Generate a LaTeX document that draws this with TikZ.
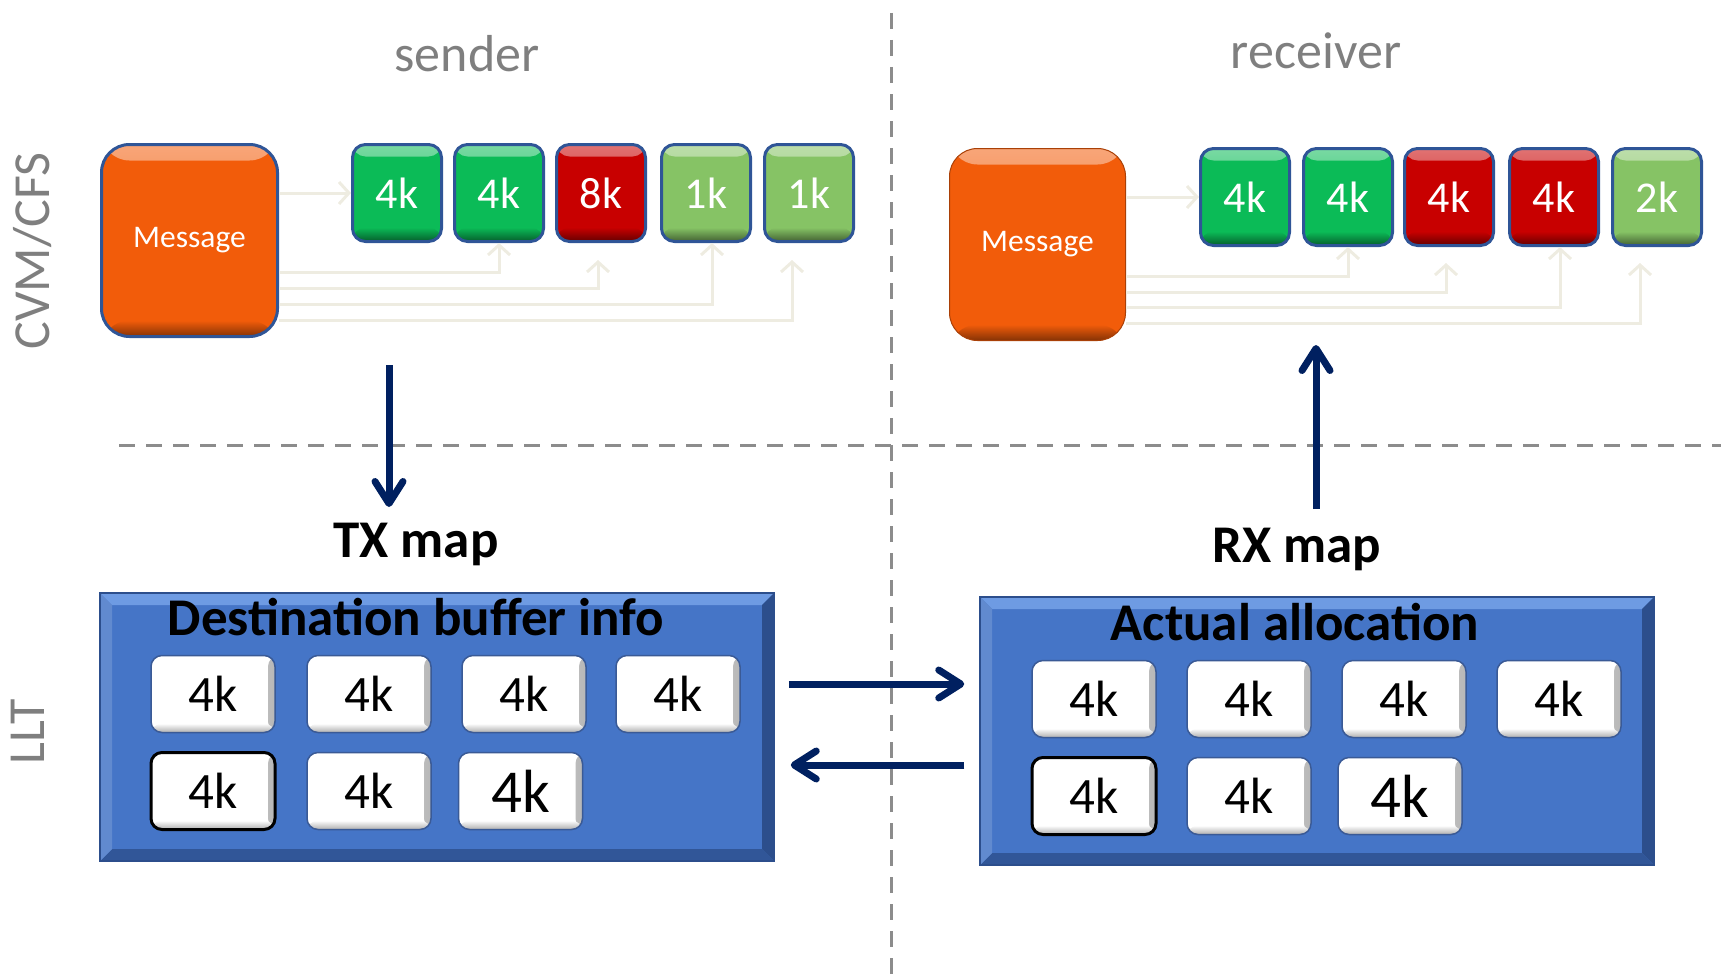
\documentclass[tikz,border=0pt]{standalone}
\usepackage{fontspec}
\setmainfont{Carlito}
\usetikzlibrary{arrows.meta,positioning,calc}

\definecolor{msgorange}{HTML}{F25C0A}
\definecolor{bufgreen}{HTML}{0BBB57}
\definecolor{bufred}{HTML}{C80000}
\definecolor{buflime}{HTML}{86C365}
\definecolor{edgeblue}{HTML}{2F5597}
\definecolor{panelblue}{HTML}{4575C7}
\definecolor{panellight}{HTML}{6E9BE3}
\definecolor{paneldark}{HTML}{2C4E8C}
\definecolor{navy}{HTML}{002060}
\definecolor{feedline}{HTML}{EEECE1}
\definecolor{labelgray}{HTML}{7F7F7F}
\definecolor{rulegray}{HTML}{8C8C8C}
\definecolor{slotline}{HTML}{3A5A96}

\tikzset{
  sidelabel/.style={text=labelgray, font=\fontsize{52}{60}\selectfont, inner sep=0pt},
  boldlabel/.style={font=\bfseries\fontsize{53}{60}\selectfont, inner sep=0pt},
  msgbox/.style={fill=msgorange, rounded corners=28pt, minimum width=176pt, minimum height=192pt,
    inner sep=0pt, text=white, font=\fontsize{31.5}{36}\selectfont,
    path picture={
      \shade[top color=msgorange!55!white, bottom color=msgorange]
        (path picture bounding box.north west) rectangle ([yshift=-16pt]path picture bounding box.north east);
      \shade[top color=msgorange, bottom color=msgorange!55!black]
        ([yshift=16pt]path picture bounding box.south west) rectangle (path picture bounding box.south east);
    }},
  chunk/.style={fill=#1, draw=edgeblue, line width=3pt, rounded corners=13pt,
    minimum width=89pt, minimum height=97pt, inner sep=0pt, text=white,
    font=\fontsize{44}{50}\selectfont,
    path picture={
      \shade[top color=#1!55!white, bottom color=#1]
        (path picture bounding box.north west) rectangle ([yshift=-12pt]path picture bounding box.north east);
      \shade[top color=#1, bottom color=#1!50!black]
        ([yshift=14pt]path picture bounding box.south west) rectangle (path picture bounding box.south east);
    }},
  slot/.style={fill=white, draw=slotline, line width=1.5pt, rounded corners=11pt,
    minimum width=124pt, minimum height=77pt, inner sep=0pt,
    font=\fontsize{51}{56}\selectfont,
    path picture={
      \shade[left color=white, right color=black!28]
        ([xshift=-7pt]path picture bounding box.north east) rectangle (path picture bounding box.south east);
      \shade[top color=white, bottom color=black!32]
        ([yshift=9pt]path picture bounding box.south west) rectangle (path picture bounding box.south east);
    }},
  panel/.style={fill=panelblue, draw=paneldark, line width=1.5pt,
    minimum width=674pt, minimum height=268pt, inner sep=0pt,
    path picture={
      \fill[panellight] (path picture bounding box.north west) -- (path picture bounding box.north east)
        -- ([xshift=-12pt,yshift=-12pt]path picture bounding box.north east)
        -- ([xshift=12pt,yshift=-12pt]path picture bounding box.north west) -- cycle;
      \fill[paneldark] (path picture bounding box.north east) -- (path picture bounding box.south east)
        -- ([xshift=-12pt,yshift=12pt]path picture bounding box.south east)
        -- ([xshift=-12pt,yshift=-12pt]path picture bounding box.north east) -- cycle;
      \fill[paneldark!80!panelblue] (path picture bounding box.south west) -- (path picture bounding box.south east)
        -- ([xshift=-12pt,yshift=12pt]path picture bounding box.south east)
        -- ([xshift=12pt,yshift=12pt]path picture bounding box.south west) -- cycle;
      \fill[panelblue!85!white] (path picture bounding box.north west) -- (path picture bounding box.south west)
        -- ([xshift=12pt,yshift=12pt]path picture bounding box.south west)
        -- ([xshift=12pt,yshift=-12pt]path picture bounding box.north west) -- cycle;
    }},
  feed/.style={draw=feedline, line width=3pt, -{Straight Barb[length=10pt,width=22pt]}},
  bigarrow/.style={draw=navy, line width=7pt, -{Straight Barb[length=22pt,width=28pt,round]}},
  divider/.style={draw=rulegray, line width=3pt, dash pattern=on 16pt off 11pt}
}

\begin{document}
\begin{tikzpicture}[x=1pt,y=-1pt]
  \useasboundingbox (0,0) rectangle (1721,974);

  % quadrant rules
  \draw[divider] (891,13) -- (891,974);
  \draw[divider] (119,445) -- (1721,445);

  \node [sidelabel, anchor=base] (sender) at (467,71) {sender};
  \node [sidelabel, anchor=base] (receiver) at (1316,68) {receiver};
  \node [sidelabel, rotate=90] (cvm) at (33,251) {CVM/CFS};
  \node [sidelabel, rotate=90] (llt) at (28,732) {LLT};

  % sender side
  \node [msgbox, draw=edgeblue, line width=3pt] (msgS) at (189.5,240.5) {Message};
  \node [chunk=bufgreen] (s1) at (397,193) {4k};
  \node [chunk=bufgreen] (s2) at (499,193) {4k};
  \node [chunk=bufred] (s3) at (601,193) {8k};
  \node [chunk=buflime] (s4) at (706,193) {1k};
  \node [chunk=buflime] (s5) at (809,193) {1k};
  \draw[feed] (msgS.east |- s1.west) -- (s1.west);
  \draw[feed] ([yshift=-32pt]msgS.east) -| (s2.south);
  \draw[feed] ([yshift=-48pt]msgS.east) -| ([xshift=-3pt,yshift=-17pt]s3.south);
  \draw[feed] ([yshift=-64pt]msgS.east) -| ([xshift=6pt]s4.south);
  \draw[feed] ([yshift=-80pt]msgS.east) -| ([xshift=-17pt,yshift=-17pt]s5.south);

  % receiver side
  \node [msgbox, draw=msgorange!70!black, line width=1pt] (msgR) at (1037.5,244.5) {Message};
  \node [chunk=bufgreen] (r1) at (1245,197) {4k};
  \node [chunk=bufgreen] (r2) at (1348,197) {4k};
  \node [chunk=bufred] (r3) at (1449,197) {4k};
  \node [chunk=bufred] (r4) at (1554,197) {4k};
  \node [chunk=buflime] (r5) at (1657,197) {2k};
  \draw[feed] (msgR.east |- r1.west) -- (r1.west);
  \draw[feed] ([yshift=-32pt]msgR.east) -| (r2.south);
  \draw[feed] ([yshift=-48pt]msgR.east) -| ([xshift=-3pt,yshift=-16pt]r3.south);
  \draw[feed] ([yshift=-63pt]msgR.east) -| ([xshift=6pt]r4.south);
  \draw[feed] ([yshift=-79pt]msgR.east) -| ([xshift=-17pt,yshift=-16pt]r5.south);

  % maps
  \node [boldlabel, anchor=base] (txmap) at (416,557) {TX map};
  \node [boldlabel, anchor=base] (rxmap) at (1297,562) {RX map};
  \coordinate (txtop) at (389,365);
  \coordinate (txend) at (389,507);
  \draw[bigarrow] (txtop) -- (txend);
  \coordinate (rxbot) at (1316,509);
  \coordinate (rxend) at (1316,345);
  \draw[bigarrow] (rxbot) -- (rxend);

  % LLT buffers
  \node [panel] (panelS) at (437,727) {};
  \node [boldlabel, anchor=base] (dstinfo) at (416,635) {Destination buffer info};
  \node [slot] (ts1) at (213,694) {4k};
  \node [slot] (ts2) at (369,694) {4k};
  \node [slot] (ts3) at (524,694) {4k};
  \node [slot] (ts4) at (678,694) {4k};
  \node [slot, draw=black, line width=3pt] (ts5) at (213,791) {4k};
  \node [slot] (ts6) at (369,791) {4k};
  \node [slot, font=\fontsize{61}{66}\selectfont] (ts7) at (520.5,791) {4k};

  \node [panel] (panelR) at (1317,731) {};
  \node [boldlabel, anchor=base] (actual) at (1295,640) {Actual allocation};
  \node [slot] (rs1) at (1094,699) {4k};
  \node [slot] (rs2) at (1249,699) {4k};
  \node [slot] (rs3) at (1404,699) {4k};
  \node [slot] (rs4) at (1559,699) {4k};
  \node [slot, draw=black, line width=3pt] (rs5) at (1094,796) {4k};
  \node [slot] (rs6) at (1249,796) {4k};
  \node [slot, font=\fontsize{61}{66}\selectfont] (rs7) at (1400,796) {4k};

  \coordinate (reqS) at ([xshift=14pt,yshift=43pt]panelS.east);
  \draw[bigarrow, shorten >=15pt] (reqS) -- (reqS -| panelR.west);
  \coordinate (ackR) at ([xshift=-15pt,yshift=-34pt]panelR.west);
  \draw[bigarrow, shorten >=16pt] (ackR) -- (ackR -| panelS.east);
\end{tikzpicture}
\end{document}
